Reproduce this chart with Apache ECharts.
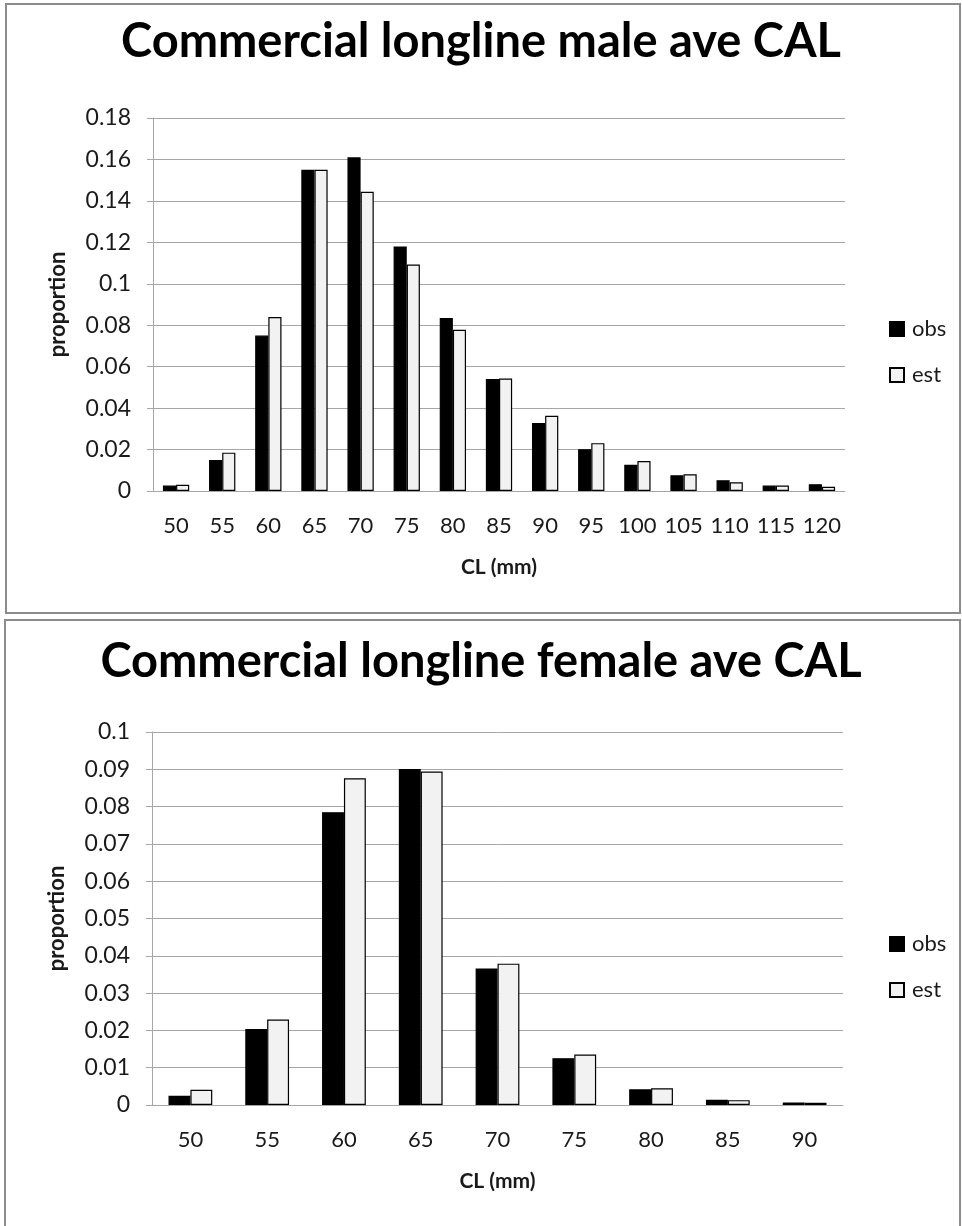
<!DOCTYPE html>
<html>
<head>
<meta charset="utf-8">
<title>Commercial longline ave CAL</title>
<script src="https://cdn.jsdelivr.net/npm/echarts@6/dist/echarts.min.js"></script>
<style>
  html, body { margin: 0; padding: 0; background: #fff; overflow: hidden; }
  #chart { width: 962px; height: 1226px; }
</style>
</head>
<body>
<div id="chart"></div>
<script>
// male panel
const maleCats = ['50', '55', '60', '65', '70', '75', '80', '85', '90', '95', '100', '105', '110', '115', '120'];
const maleObs = [0.0026, 0.015, 0.075, 0.155, 0.161, 0.118, 0.0835, 0.054, 0.0328, 0.0202, 0.0127, 0.0076, 0.0052, 0.0026, 0.0033];
const maleEst = [0.003, 0.0185, 0.084, 0.155, 0.1444, 0.1093, 0.0778, 0.0543, 0.0363, 0.0231, 0.0145, 0.0081, 0.0042, 0.0026, 0.002];

// female panel
const femaleCats = ['50', '55', '60', '65', '70', '75', '80', '85', '90'];
const femaleObs = [0.00245, 0.0204, 0.0785, 0.0901, 0.0366, 0.01255, 0.0042, 0.0014, 0.0007];
const femaleEst = [0.0041, 0.0229, 0.0876, 0.0894, 0.0379, 0.01355, 0.0045, 0.0013, 0.0006];

const seriesNames = ['obs', 'est'];

const font = 'Lato';
const gray = '#a6a6a6';
const textColor = '#1a1a1a';

const chart = echarts.init(document.getElementById('chart'));

function xAxis(gridIndex, cats) {
  return {
    type: 'category',
    gridIndex: gridIndex,
    data: cats,
    name: 'CL (mm)',
    nameLocation: 'middle',
    nameGap: 66,
    nameTextStyle: { fontFamily: font, fontWeight: 'bold', fontSize: 21, color: textColor },
    axisLine: { lineStyle: { color: gray, width: 1 } },
    axisTick: { inside: true, length: 6, lineStyle: { color: gray } },
    axisLabel: { interval: 0, fontFamily: font, fontSize: 22, color: textColor, margin: 24 },
  };
}

function yAxis(gridIndex, max, interval) {
  return {
    type: 'value',
    gridIndex: gridIndex,
    min: 0,
    max: max,
    interval: interval,
    name: 'proportion',
    nameLocation: 'middle',
    nameGap: 84,
    nameTextStyle: { fontFamily: font, fontWeight: 'bold', fontSize: 22, color: textColor },
    axisLine: { show: true, lineStyle: { color: gray, width: 1 } },
    axisTick: { show: true, length: 6, lineStyle: { color: gray } },
    axisLabel: { fontFamily: font, fontSize: 23, color: textColor, margin: 22 },
    splitLine: { lineStyle: { color: gray, width: 1 } },
  };
}

function bars(name, data, axisIndex, fill) {
  return {
    name: name,
    type: 'bar',
    xAxisIndex: axisIndex,
    yAxisIndex: axisIndex,
    data: data,
    barGap: '0%',
    barCategoryGap: '43%',
    itemStyle: { color: fill, borderColor: '#000', borderWidth: 1.2 },
  };
}

function legend(top) {
  return {
    data: seriesNames,
    orient: 'vertical',
    left: 884,
    top: top,
    icon: 'rect',
    itemWidth: 14,
    itemHeight: 14,
    itemGap: 24,
    textStyle: { fontFamily: font, fontSize: 22, color: textColor, padding: [0, 0, 0, 3] },
  };
}

const titleStyle = { fontFamily: font, fontWeight: 'bold', fontSize: 47, color: '#000' };

const option = {
  animation: false,
  backgroundColor: '#fff',
  title: [
    { text: 'Commercial longline male ave CAL', left: 'center', top: 13, textStyle: titleStyle },
    { text: 'Commercial longline female ave CAL', left: 'center', top: 633, textStyle: titleStyle },
  ],
  legend: [legend(313), legend(928)],
  grid: [
    { left: 153, top: 118, width: 692, height: 373 },
    { left: 152, top: 732, width: 691, height: 373 },
  ],
  xAxis: [xAxis(0, maleCats), xAxis(1, femaleCats)],
  yAxis: [yAxis(0, 0.18, 0.02), yAxis(1, 0.1, 0.01)],
  series: [
    bars(seriesNames[0], maleObs, 0, '#000'),
    bars(seriesNames[1], maleEst, 0, '#f2f2f2'),
    bars(seriesNames[0], femaleObs, 1, '#000'),
    bars(seriesNames[1], femaleEst, 1, '#f2f2f2'),
  ],
  graphic: [
    { type: 'rect', shape: { x: 6, y: 4, width: 954, height: 609 }, style: { fill: 'none', stroke: '#8c8c8c', lineWidth: 2 }, silent: true },
    { type: 'rect', shape: { x: 5, y: 620, width: 955, height: 640 }, style: { fill: 'none', stroke: '#8c8c8c', lineWidth: 2 }, silent: true },
  ],
};

chart.setOption(option);
</script>
</body>
</html>
